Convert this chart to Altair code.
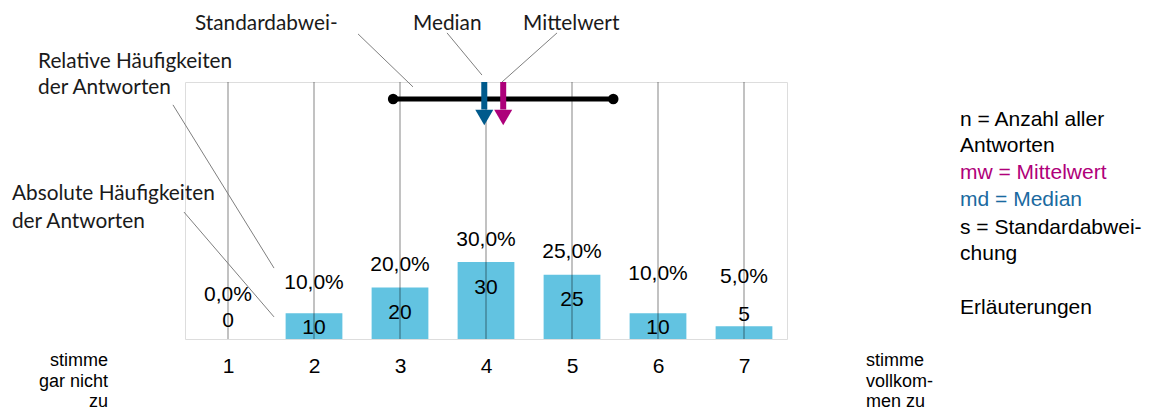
import altair as alt
import pandas as pd

# ---------------- data ----------------
categories = [1, 2, 3, 4, 5, 6, 7]
counts = [0, 10, 20, 30, 25, 10, 5]
percent_labels = ["0,0%", "10,0%", "20,0%", "30,0%", "25,0%", "10,0%", "5,0%"]
count_labels = ["0", "10", "20", "30", "25", "10", "5"]
pct_label_y = [17.1, 21.8, 28.8, 38.5, 33.9, 25.3, 24.1]
cnt_label_y = [7.0, 4.3, 10.1, 19.8, 15.2, 4.3, 9.3]

mean_value = 4.2
median_value = 3.98
sd_low = 2.92
sd_high = 5.48
sd_line_y = 93.4

# annotation texts : text, x, y (data units)
ann_text = ["Standardabwei-", "Median", "Mittelwert",
            "Relative Häufigkeiten", "der Antworten",
            "Absolute Häufigkeiten", "der Antworten"]
ann_x = [0.616, 3.151, 4.430, -1.209, -1.209, -1.512, -1.512]
ann_y = [122.6, 122.6, 122.6, 107.8, 97.7, 56.4, 45.5]

# leader lines
lead_x = [2.512, 3.547, 4.826, 0.360, 0.488]
lead_y = [118.7, 119.1, 119.1, 91.1, 49.4]
lead_x2 = [3.151, 3.953, 4.186, 1.535, 1.535]
lead_y2 = [98.1, 102.7, 100.0, 27.6, 8.6]

# scale end labels
left_lines = ["stimme", "gar nicht", "zu"]
right_lines = ["stimme", "vollkom-", "men zu"]
end_y = [-8.4, -16.6, -24.6]
left_x = -0.395
right_x = 8.419

# legend (right)
legend_lines = ["n = Anzahl aller", "Antworten", "mw = Mittelwert", "md = Median",
                "s = Standardabwei-", "chung", "Erläuterungen"]
legend_colors = ["#000000", "#000000", "#b0007a", "#1a6aa0", "#000000", "#000000", "#000000"]
legend_y = [85.2, 75.1, 64.6, 54.1, 43.2, 33.1, 12.1]
legend_x = 9.512

BAR_COLOR = "#62c3e1"
MEAN_COLOR = "#ad007a"
MEDIAN_COLOR = "#005a8c"
SANS = "Arial"

xs = alt.Scale(domain=[0.5, 7.5], nice=False, zero=False)
ys = alt.Scale(domain=[0, 100], nice=False, zero=False)
x_axis = alt.Axis(values=categories, title=None, grid=False, ticks=False, domain=False,
                  labelFontSize=21, labelFont=SANS, labelColor="#000000",
                  labelPadding=16, labelFlush=False)


def X(f):
    return alt.X(f, type="quantitative", scale=xs, axis=x_axis)


def Y(f):
    return alt.Y(f, type="quantitative", scale=ys, axis=None)


bars_df = pd.DataFrame({
    "c": categories,
    "lo": [c - 0.33 for c in categories],
    "hi": [c + 0.33 for c in categories],
    "n": counts,
    "zero": [0] * len(categories),
    "top": [100] * len(categories),
    "pct": percent_labels,
    "cnt": count_labels,
    "py": pct_label_y,
    "cy": cnt_label_y,
})

bars = alt.Chart(bars_df).mark_bar(color=BAR_COLOR).encode(
    x=X("lo"), x2="hi", y=Y("n"), y2="zero"
)

grid = alt.Chart(bars_df).mark_rule(color="#000000", opacity=0.24, strokeWidth=2).encode(
    x=X("c"), y=Y("zero"), y2="top"
)

pct_text = alt.Chart(bars_df).mark_text(
    font=SANS, fontSize=21, baseline="middle", align="center", color="#000000"
).encode(x=X("c"), y=Y("py"), text="pct:N")

cnt_text = alt.Chart(bars_df).mark_text(
    font=SANS, fontSize=21, baseline="middle", align="center", color="#000000"
).encode(x=X("c"), y=Y("cy"), text="cnt:N")

sd_df = pd.DataFrame({"a": [sd_low], "b": [sd_high], "y": [sd_line_y]})
sd_line = alt.Chart(sd_df).mark_rule(color="#000000", strokeWidth=5).encode(
    x=X("a"), x2="b", y=Y("y")
)
sd_pts_df = pd.DataFrame({"x": [sd_low, sd_high], "y": [sd_line_y, sd_line_y]})
sd_pts = alt.Chart(sd_pts_df).mark_point(filled=True, size=110, color="#000000", opacity=1).encode(
    x=X("x"), y=Y("y")
)

arrow_df = pd.DataFrame({
    "x": [median_value, mean_value],
    "col": [MEDIAN_COLOR, MEAN_COLOR],
    "top": [100, 100],
    "bot": [89.3, 89.3],
    "head": [86.2, 86.2],
})
shafts = alt.Chart(arrow_df).mark_rule(strokeWidth=6, strokeCap="butt").encode(
    x=X("x"), y=Y("top"), y2="bot", color=alt.Color("col:N", scale=None)
)
heads = alt.Chart(arrow_df).mark_point(shape="triangle-down", filled=True, size=324, opacity=1).encode(
    x=X("x"), y=Y("head"), color=alt.Color("col:N", scale=None)
)

lead_df = pd.DataFrame({"x": lead_x, "y": lead_y, "x2": lead_x2, "y2": lead_y2})
leaders = alt.Chart(lead_df).mark_rule(color="#7f7f7f", strokeWidth=1).encode(
    x=X("x"), y=Y("y"), x2="x2", y2="y2"
)

ann_df = pd.DataFrame({"t": ann_text, "x": ann_x, "y": ann_y})
ann = alt.Chart(ann_df).mark_text(
    font="Lato", fontSize=20.8, align="left", baseline="middle", color="#1a1a1a"
).encode(x=X("x"), y=Y("y"), text="t:N")

left_df = pd.DataFrame({"t": left_lines, "x": [left_x] * 3, "y": end_y})
left_t = alt.Chart(left_df).mark_text(
    font=SANS, fontSize=18, align="right", baseline="middle", color="#000000"
).encode(x=X("x"), y=Y("y"), text="t:N")

right_df = pd.DataFrame({"t": right_lines, "x": [right_x] * 3, "y": end_y})
right_t = alt.Chart(right_df).mark_text(
    font=SANS, fontSize=18, align="left", baseline="middle", color="#000000"
).encode(x=X("x"), y=Y("y"), text="t:N")

leg_df = pd.DataFrame({"t": legend_lines, "x": [legend_x] * len(legend_lines),
                       "y": legend_y, "col": legend_colors})
legend_t = alt.Chart(leg_df).mark_text(
    font=SANS, fontSize=21, align="left", baseline="middle"
).encode(x=X("x"), y=Y("y"), text="t:N", color=alt.Color("col:N", scale=None))

chart = alt.layer(
    bars, grid, pct_text, cnt_text, sd_line, sd_pts, shafts, heads,
    leaders, ann, left_t, right_t, legend_t
).properties(
    width=602, height=257,
    autosize=alt.AutoSizeParams(type="none"),
    padding={"left": 177, "top": 74, "right": 356, "bottom": 71},
).configure_view(
    stroke="#bfbfbf", strokeWidth=2
).configure(background="white")

chart.save("out.html", embed_options={"renderer": "svg", "actions": False})
